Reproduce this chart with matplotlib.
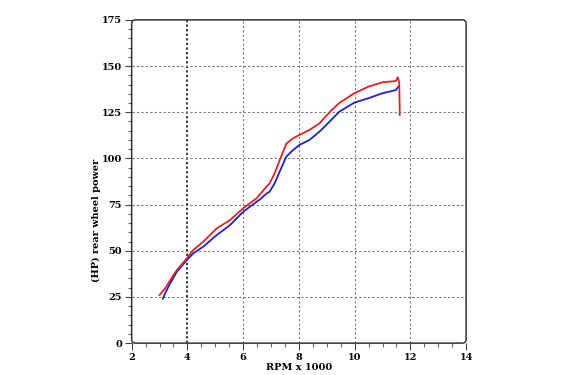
import numpy as np
import matplotlib
matplotlib.use("Agg")
import matplotlib.pyplot as plt
from matplotlib.patches import FancyBboxPatch

# courbes (RPM x 1000, HP)
red_rpm = [3.0, 3.2, 3.38, 3.62, 3.98, 4.21, 4.57, 5.05, 5.53, 6.0, 6.48, 6.84,
           6.95, 7.13, 7.31, 7.55, 7.79, 8.02, 8.38, 8.74, 9.1, 9.45, 9.99,
           10.5, 11.0, 11.48, 11.55, 11.6, 11.62]
red_hp = [26, 29.6, 34, 39.5, 45.9, 50.4, 54.9, 62.1, 66.6, 73, 78.4, 84.7,
          86.5, 91.9, 99, 108, 110.9, 112.7, 115.4, 119, 125, 130, 135.3,
          138.9, 141.2, 141.9, 143.9, 141, 123.5]

blue_rpm = [3.12, 3.2, 3.38, 3.62, 3.98, 4.21, 4.57, 5.05, 5.53, 6.0, 6.48, 6.6,
            6.84, 6.95, 7.13, 7.31, 7.55, 7.79, 8.02, 8.38, 8.74, 9.1, 9.45,
            9.99, 10.5, 11.0, 11.48, 11.57]
blue_hp = [24, 26.9, 32.3, 38.6, 45, 48.6, 52.2, 58.5, 63.9, 71.1, 76.5, 77.8,
           81, 82, 86.5, 92.8, 101, 104.5, 107.3, 110, 114.5, 119.9, 125.3,
           130.2, 132.6, 135.3, 137, 138.9]

x_ticks = [2, 4, 6, 8, 10, 12, 14]
y_ticks = [0, 25, 50, 75, 100, 125, 150, 175]

fnt = {"family": "DejaVu Serif", "weight": "bold", "size": 7}

fig = plt.figure(figsize=(5.65, 3.75), dpi=100)
ax = fig.add_axes([0.233, 0.085, 0.592, 0.862])

ax.plot(blue_rpm, blue_hp, color="#2020cc", lw=1.3, zorder=3)
ax.plot(red_rpm, red_hp, color="#dd2222", lw=1.3, zorder=4)

ax.set_xlim(2, 14)
ax.set_ylim(0, 175)
ax.set_xticks(x_ticks)
ax.set_yticks(y_ticks)
ax.set_xticks(np.arange(2, 14.01, 0.5), minor=True)
ax.set_yticks(np.arange(0, 175.1, 5), minor=True)
ax.set_xticklabels([str(v) for v in x_ticks], fontdict=fnt)
ax.set_yticklabels([str(v) for v in y_ticks], fontdict=fnt)
ax.tick_params(which="major", length=5, width=0.8, color="#444", pad=2)
ax.tick_params(which="minor", length=3, width=0.8, color="#666")

# grille
for v in x_ticks[1:-1]:
    if v == 4:
        ax.axvline(v, color="black", lw=1.1, ls=(0, (1.5, 1.5)), zorder=1)
    else:
        ax.axvline(v, color="#777", lw=0.8, ls=(0, (2, 2)), zorder=1)
for v in y_ticks[1:-1]:
    ax.axhline(v, color="#777", lw=0.8, ls=(0, (2, 2)), zorder=1)

# cadre arrondi
for s in ax.spines.values():
    s.set_visible(False)
cadre = FancyBboxPatch((0, 0), 1, 1, boxstyle="round,pad=0,rounding_size=0.012",
                       transform=ax.transAxes, fill=False, edgecolor="#333",
                       lw=1.1, clip_on=False, zorder=5)
ax.add_patch(cadre)

ax.set_xlabel("RPM x 1000", fontdict=fnt)
ax.set_ylabel("(HP) rear wheel power", fontdict=fnt)
ax.xaxis.set_label_coords(0.5, -0.06)
ax.yaxis.set_label_coords(-0.091, 0.38)

fig.savefig("out.png", dpi=100)
